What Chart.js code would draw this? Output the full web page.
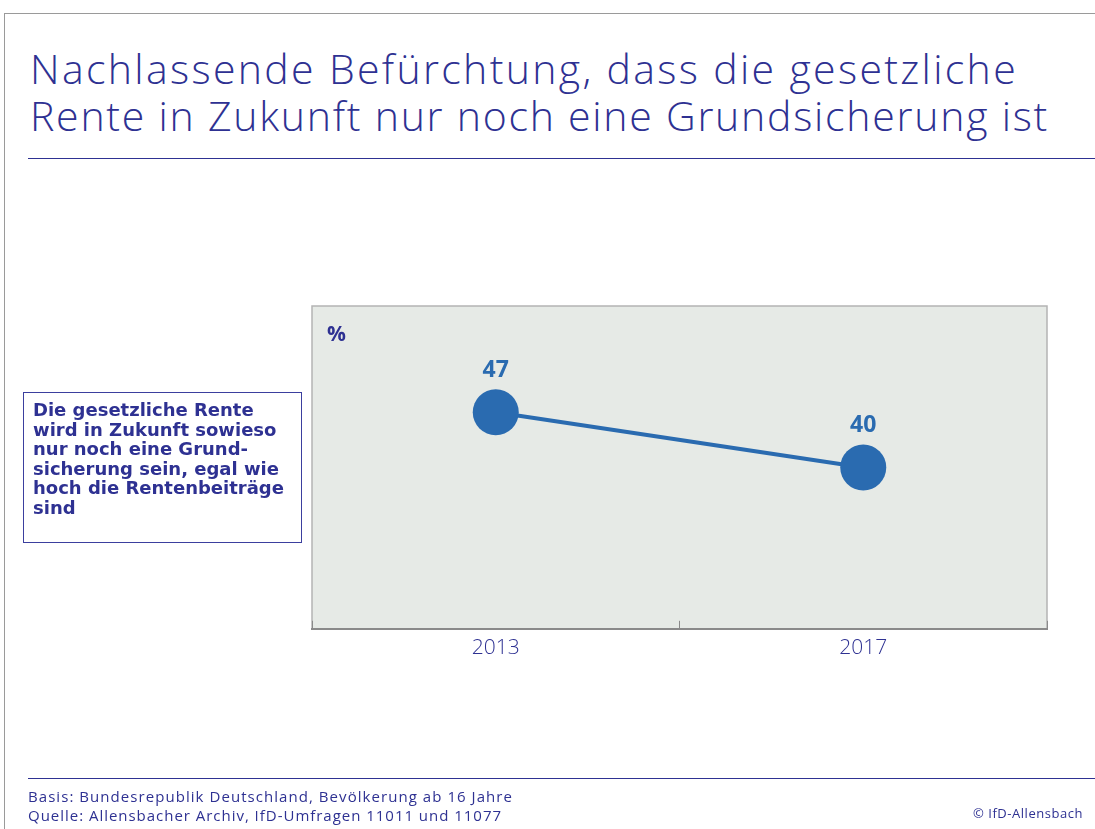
<!DOCTYPE html>
<html>
<head>
<meta charset="utf-8">
<script src="https://cdn.jsdelivr.net/npm/chart.js@4.4.1/dist/chart.umd.min.js"></script>
<style>
  html, body { margin: 0; padding: 0; background: #fff; }
  body { width: 1095px; height: 829px; position: relative; overflow: hidden; font-family: "Open Sans", "Noto Sans", sans-serif; color: #2e3192; }
  #frameTop { position: absolute; left: 4px; top: 13px; width: 1091px; height: 0; border-top: 1px solid #9a9a9a; }
  #frameLeft { position: absolute; left: 4px; top: 13px; width: 0; height: 816px; border-left: 1px solid #9a9a9a; }
  #title { position: absolute; left: 30px; top: 45px; font-size: 41px; font-weight: 300; line-height: 47px; white-space: nowrap; }
  #titleRule { position: absolute; left: 28px; top: 158px; width: 1067px; border-top: 1px solid #2e3192; }
  #chartWrap { position: absolute; left: 0; top: 0; width: 1095px; height: 829px; }
  #itemBox { position: absolute; left: 23px; top: 392px; width: 268px; height: 137px; border: 1.5px solid #3b3f9e; padding: 7px 0 5px 9px; font-family: "DejaVu Sans", sans-serif; font-weight: bold; font-size: 18px; line-height: 19.5px; white-space: nowrap; letter-spacing: 0; }
  #footRule { position: absolute; left: 28px; top: 778px; width: 1067px; border-top: 1px solid #2e3192; }
  #foot { position: absolute; left: 28px; top: 787px; font-size: 15px; line-height: 19px; white-space: nowrap; }
  #copy { position: absolute; left: 973px; top: 804px; font-size: 13px; white-space: nowrap; }
  .fit { display: inline-block; }
</style>
</head>
<body>
<div id="frameTop"></div>
<div id="frameLeft"></div>
<div id="title"><span class="fit" data-w="988">Nachlassende Befürchtung, dass die gesetzliche</span><br><span class="fit" data-w="1019">Rente in Zukunft nur noch eine Grundsicherung ist</span></div>
<div id="titleRule"></div>
<div id="chartWrap"><canvas id="chart"></canvas></div>
<div id="itemBox">Die gesetzliche Rente<br>wird in Zukunft sowieso<br>nur noch eine Grund-<br>sicherung sein, egal wie<br>hoch die Rentenbeiträge<br>sind</div>
<div id="footRule"></div>
<div id="foot"><span class="fit" data-w="485">Basis: Bundesrepublik Deutschland, Bevölkerung ab 16 Jahre</span><br><span class="fit" data-w="474">Quelle: Allensbacher Archiv, IfD-Umfragen 11011 und 11077</span></div>
<div id="copy"><span class="fit" data-w="110">© IfD-Allensbach</span></div>

<script>
// survey years and share agreeing (%)
const years = ['2013', '2017'];
const shares = [47, 40];
const unitLabel = '%';

// stretch the text lines to the widths of the original lettering
document.querySelectorAll('.fit').forEach(el => {
  const target = parseFloat(el.dataset.w);
  const n = el.textContent.length;
  const w = el.getBoundingClientRect().width;
  el.style.letterSpacing = ((target - w) / n) + 'px';
});

const plotFrame = {
  id: 'plotFrame',
  beforeDraw(chart) {
    const { ctx, chartArea: a } = chart;
    ctx.save();
    ctx.fillStyle = '#e6eae6';
    ctx.fillRect(a.left, a.top, a.right - a.left, a.bottom - a.top);
    ctx.strokeStyle = '#b4b4b4';
    ctx.lineWidth = 1.5;
    ctx.beginPath();
    ctx.moveTo(a.left, a.bottom);
    ctx.lineTo(a.left, a.top);
    ctx.lineTo(a.right, a.top);
    ctx.lineTo(a.right, a.bottom);
    ctx.stroke();
    ctx.fillStyle = '#2e3192';
    ctx.font = 'bold 21px "Open Sans", "Noto Sans", sans-serif';
    ctx.textBaseline = 'top';
    ctx.fillText(unitLabel, a.left + 15, a.top + 19);
    ctx.restore();
  }
};

const valueLabels = {
  id: 'valueLabels',
  afterDatasetsDraw(chart) {
    const { ctx } = chart;
    const meta = chart.getDatasetMeta(0);
    ctx.save();
    ctx.fillStyle = '#2a6bb0';
    ctx.font = 'bold 23px "Open Sans", "Noto Sans", sans-serif';
    ctx.textAlign = 'center';
    ctx.textBaseline = 'middle';
    meta.data.forEach((pt, i) => {
      ctx.fillText(String(shares[i]), pt.x, pt.y - 42);
    });
    ctx.restore();
  }
};

new Chart(document.getElementById('chart'), {
  type: 'line',
  data: {
    labels: years,
    datasets: [{
      data: shares,
      borderColor: '#2a6bb0',
      borderWidth: 4,
      pointRadius: 23,
      pointHoverRadius: 23,
      pointBackgroundColor: '#2a6bb0',
      pointBorderWidth: 0,
      fill: false,
      tension: 0
    }]
  },
  options: {
    responsive: true,
    maintainAspectRatio: false,
    animation: false,
    layout: { padding: { left: 312, right: 48, top: 306, bottom: 153 } },
    plugins: { legend: { display: false }, tooltip: { enabled: false } },
    scales: {
      x: {
        offset: true,
        grid: { offset: true, drawOnChartArea: false, tickLength: -8, color: '#8a8a8a', lineWidth: 1 },
        border: { display: true, color: '#8a8a8a', width: 2 },
        ticks: { color: '#2e3192', padding: 15, font: { size: 21, family: '"Open Sans", "Noto Sans", sans-serif', weight: 300 } }
      },
      y: { display: false, min: 19.5, max: 60.5 }
    }
  },
  plugins: [plotFrame, valueLabels]
});
</script>
</body>
</html>
